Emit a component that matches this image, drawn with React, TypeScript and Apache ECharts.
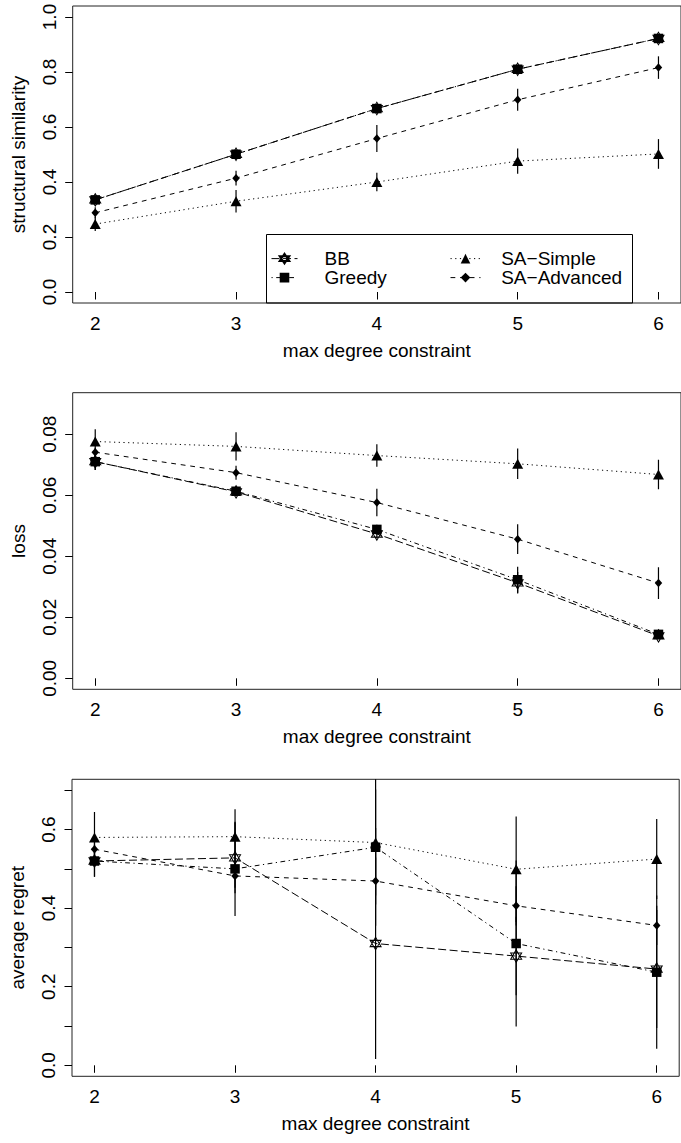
import React, { useEffect, useRef } from 'react';
import * as echarts from 'echarts';

const FONT = "'Liberation Sans', Arial, Helvetica, sans-serif";

// ---------- data ----------
const degrees = [2, 3, 4, 5, 6];
const seriesNames = ['BB', 'Greedy', 'SA−Simple', 'SA−Advanced'];
const xTitle = 'max degree constraint';
const yTitles = ['structural similarity', 'loss', 'average regret'];

// panel 1: structural similarity
const simBB = [0.335, 0.501, 0.667, 0.81, 0.922];
const simGreedy = [0.335, 0.501, 0.667, 0.81, 0.922];
const simSimple = [0.247, 0.33, 0.4, 0.476, 0.502];
const simAdvanced = [0.288, 0.414, 0.558, 0.699, 0.816];
const simBBErr = [0.015, 0.012, 0.012, 0.012, 0.01];
const simGreedyErr = [0.015, 0.012, 0.012, 0.012, 0.01];
const simSimpleErr = [0.025, 0.041, 0.034, 0.046, 0.054];
const simAdvancedErr = [0.02, 0.027, 0.049, 0.04, 0.041];

// panel 2: loss
const lossBB = [0.071, 0.0611, 0.0473, 0.0313, 0.0139];
const lossGreedy = [0.071, 0.0613, 0.0488, 0.0323, 0.0144];
const lossSimple = [0.0776, 0.076, 0.073, 0.0703, 0.0668];
const lossAdvanced = [0.0741, 0.0674, 0.0576, 0.0456, 0.0312];
const lossBBErr = [0.0027, 0.001, 0.0015, 0.0035, 0.0008];
const lossGreedyErr = [0.0027, 0.001, 0.0015, 0.0043, 0.0008];
const lossSimpleErr = [0.004, 0.0046, 0.0037, 0.005, 0.0048];
const lossAdvancedErr = [0.0015, 0.0023, 0.0045, 0.0049, 0.0052];

// panel 3: average regret
const regBB = [0.52, 0.528, 0.31, 0.278, 0.245];
const regGreedy = [0.52, 0.5, 0.555, 0.31, 0.237];
const regSimple = [0.58, 0.582, 0.567, 0.499, 0.525];
const regAdvanced = [0.55, 0.482, 0.469, 0.406, 0.356];
const regBBErr = [0.04, 0.09, 0.294, 0.1, 0.15];
const regGreedyErr = [0.04, 0.12, 0.2, 0.211, 0.195];
const regSimpleErr = [0.065, 0.07, 0.135, 0.134, 0.102];
const regAdvancedErr = [0.02, 0.03, 0.06, 0.05, 0.05];

// axis ticks / labels
const xTicks = [2, 3, 4, 5, 6];
const simTicks = [0, 0.2, 0.4, 0.6, 0.8, 1.0];
const simLabels = [0, 0.2, 0.4, 0.6, 0.8, 1.0];
const lossTicks = [0, 0.02, 0.04, 0.06, 0.08];
const lossLabels = [0, 0.02, 0.04, 0.06, 0.08];
const regTicks = [0, 0.1, 0.2, 0.3, 0.4, 0.5, 0.6, 0.7];
const regLabels = [0, 0.2, 0.4, 0.6];

// y limits (data limits, extended 4% like R)
const simLim = [0, 1];
const lossLim = [0, 0.09];
const regLim = [0, 0.7];

const STAR = 'path://M5,0 L9.33,7.5 L0.67,7.5 Z M5,10 L9.33,2.5 L0.67,2.5 Z';

const styleOf: Record<string, any> = {
  BB: { symbol: STAR, symbolSize: [11, 12.5], dash: [8, 3.5], fill: 'rgba(255,255,255,0)' },
  Greedy: { symbol: 'rect', symbolSize: 9.5, dash: [1.2, 3.5, 4.8, 3.5], fill: '#000' },
  'SA−Simple': { symbol: 'triangle', symbolSize: [11, 10], dash: [1.2, 3.5], fill: '#000' },
  'SA−Advanced': { symbol: 'diamond', symbolSize: [7.5, 8.5], dash: [4.8, 4.8], fill: '#000' },
};

const panels = [
  { means: [simBB, simGreedy, simSimple, simAdvanced], errs: [simBBErr, simGreedyErr, simSimpleErr, simAdvancedErr], ticks: simTicks, labels: simLabels, lim: simLim, digits: 1 },
  { means: [lossBB, lossGreedy, lossSimple, lossAdvanced], errs: [lossBBErr, lossGreedyErr, lossSimpleErr, lossAdvancedErr], ticks: lossTicks, labels: lossLabels, lim: lossLim, digits: 2 },
  { means: [regBB, regGreedy, regSimple, regAdvanced], errs: [regBBErr, regGreedyErr, regSimpleErr, regAdvancedErr], ticks: regTicks, labels: regLabels, lim: regLim, digits: 1 },
];

// layout (px)
const grids = [
  { left: 72.7, top: 6, width: 614.3, height: 297 },
  { left: 72.7, top: 392.7, width: 614.3, height: 296.6 },
  { left: 64.5, top: 779.3, width: 614.7, height: 297 },
];

function buildOption() {
  const xr = xTicks[xTicks.length - 1] - xTicks[0];
  const xMin = xTicks[0] - 0.04 * xr;
  const xMax = xTicks[xTicks.length - 1] + 0.04 * xr;
  const textBase = { color: '#000', fontFamily: FONT, fontSize: 19 };

  const grid = grids.map((g) => ({ ...g, show: true, borderColor: '#222', borderWidth: 1, backgroundColor: 'transparent' }));

  const xAxis = panels.map((_, i) => ({
    type: 'value',
    gridIndex: i,
    min: xMin,
    max: xMax,
    axisLine: { show: false },
    splitLine: { show: false },
    axisTick: { show: true, length: 7.5, lineStyle: { color: '#000', width: 1 }, customValues: xTicks },
    axisLabel: { show: true, margin: 11, ...textBase, customValues: xTicks, formatter: (v: number) => String(v) },
    name: xTitle,
    nameLocation: 'middle',
    nameGap: 38,
    nameTextStyle: { ...textBase },
  }));

  const yAxis = panels.map((p, i) => {
    const r = p.lim[1] - p.lim[0];
    return {
      type: 'value',
      gridIndex: i,
      min: p.lim[0] - 0.04 * r,
      max: p.lim[1] + 0.04 * r,
      axisLine: { show: false },
      splitLine: { show: false },
      axisTick: { show: true, length: 7.5, lineStyle: { color: '#000', width: 1 }, customValues: p.ticks },
      axisLabel: {
        show: true,
        rotate: 90,
        margin: 14,
        ...textBase,
        customValues: p.labels,
        formatter: (v: number) => v.toFixed(p.digits),
      },
      name: yTitles[i],
      nameLocation: 'middle',
      nameGap: 45,
      nameTextStyle: { ...textBase },
    };
  });

  const series: any[] = [];
  panels.forEach((p, pi) => {
    // error bars
    const errData: number[][] = [];
    p.means.forEach((m, si) => {
      m.forEach((v, k) => {
        errData.push([degrees[k], v - p.errs[si][k], v + p.errs[si][k]]);
      });
    });
    series.push({
      type: 'custom',
      xAxisIndex: pi,
      yAxisIndex: pi,
      clip: true,
      silent: true,
      z: 1,
      data: errData,
      encode: { x: 0, y: [1, 2] },
      renderItem: (params: any, api: any) => {
        const a = api.coord([api.value(0), api.value(1)]);
        const b = api.coord([api.value(0), api.value(2)]);
        return {
          type: 'line',
          shape: { x1: a[0], y1: a[1], x2: b[0], y2: b[1] },
          style: { stroke: '#000', lineWidth: 1.2 },
        };
      },
    });
    p.means.forEach((m, si) => {
      const name = seriesNames[si];
      const st = styleOf[name];
      series.push({
        type: 'line',
        name,
        xAxisIndex: pi,
        yAxisIndex: pi,
        data: degrees.map((d, k) => [d, m[k]]),
        symbol: st.symbol,
        symbolSize: st.symbolSize,
        showAllSymbol: true,
        z: 2 + si,
        lineStyle: { color: '#000', width: 1, type: st.dash },
        itemStyle: { color: st.fill, borderColor: '#000', borderWidth: name === 'BB' ? 1 : 0 },
        emphasis: { disabled: true },
      });
    });
  });

  const legendItem = (name: string) => ({
    name,
    lineStyle: { color: '#000', width: 1, type: styleOf[name].dash },
  });

  const legend = [
    {
      data: [legendItem('BB'), legendItem('Greedy')],
      orient: 'vertical',
      left: 271,
      top: 249.1,
      padding: 0,
      itemWidth: 26,
      itemHeight: 12,
      itemGap: 0,
      selectedMode: false,
      textStyle: { ...textBase, lineHeight: 18.4, padding: [0, 0, 0, 22] },
    },
    {
      data: [legendItem('SA−Simple'), legendItem('SA−Advanced')],
      orient: 'vertical',
      left: 450,
      top: 249.1,
      padding: 0,
      itemWidth: 30,
      itemHeight: 12,
      itemGap: 0,
      selectedMode: false,
      textStyle: { ...textBase, lineHeight: 18.4, padding: [0, 0, 0, 15.7] },
    },
  ];

  const graphic = [
    {
      type: 'rect',
      shape: { x: 266.5, y: 234.5, width: 366, height: 68.5 },
      style: { fill: 'transparent', stroke: '#000', lineWidth: 1 },
      z: 10,
      silent: true,
    },
  ];

  return {
    animation: false,
    backgroundColor: '#fff',
    textStyle: { fontFamily: FONT },
    grid,
    xAxis,
    yAxis,
    series,
    legend,
    graphic,
  };
}

export default function App() {
  const ref = useRef<HTMLDivElement>(null);
  useEffect(() => {
    if (!ref.current) return;
    const chart = echarts.init(ref.current, undefined, { renderer: 'svg' });
    chart.setOption(buildOption() as any);
    return () => chart.dispose();
  }, []);
  return (
    <div
      ref={ref}
      style={{ position: 'fixed', left: 0, top: 0, width: 681, height: 1143, background: '#fff' }}
    />
  );
}
